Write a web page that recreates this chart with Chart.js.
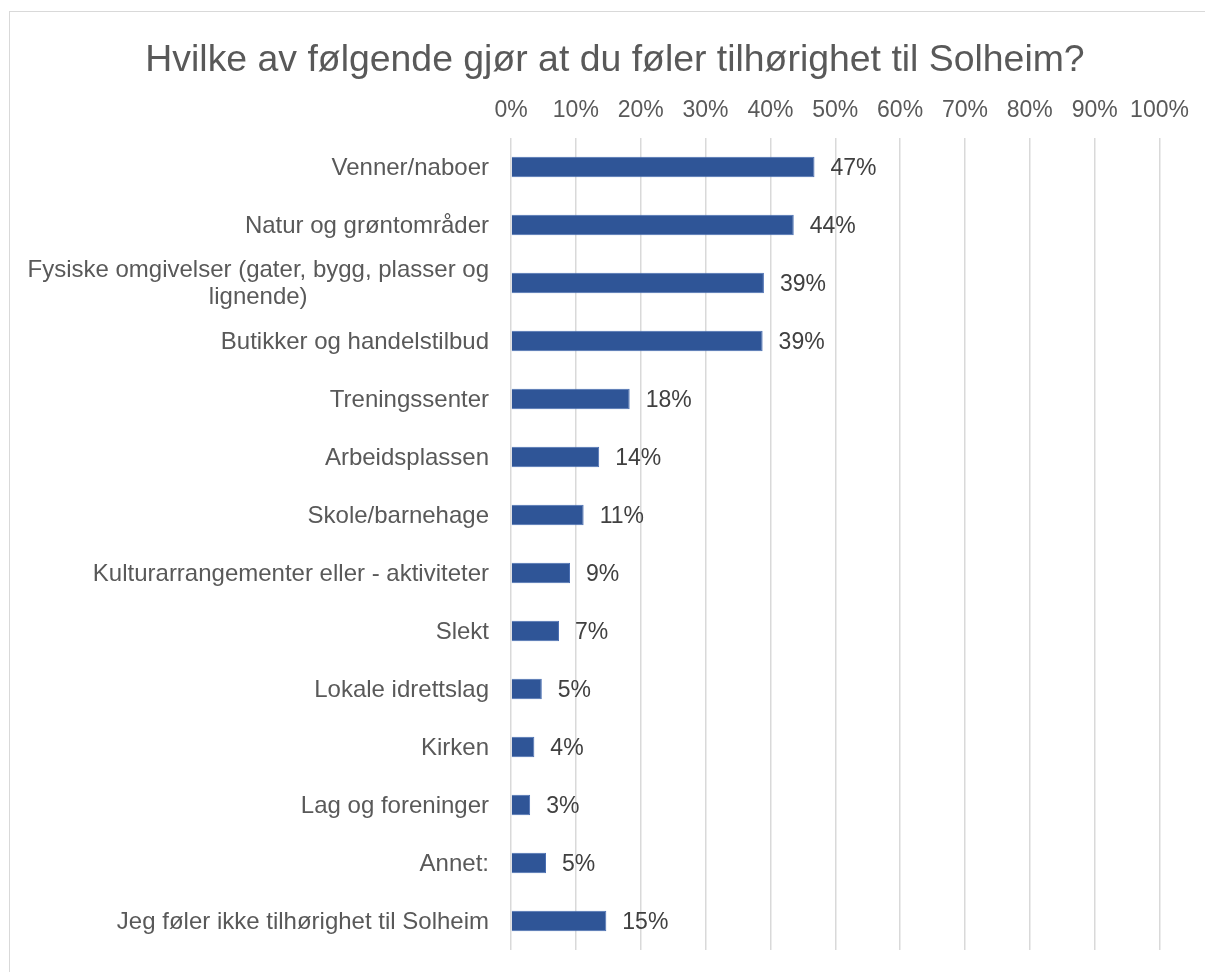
<!DOCTYPE html>
<html>
<head>
<meta charset="utf-8">
<script src="https://cdn.jsdelivr.net/npm/chart.js@4/dist/chart.umd.min.js"></script>
<style>
  html, body { margin: 0; padding: 0; background: #fff; overflow: hidden; }
  #frame { position: absolute; left: 9px; top: 11px; width: 1300px; height: 1000px; border: 1px solid #d9d9d9; }
  #chart { position: absolute; left: 0; top: 0; }
</style>
</head>
<body>
<div id="frame"></div>
<canvas id="chart" width="1205" height="972"></canvas>
<script>
'use strict';
//___________DATA__________________
var chartTitle = 'Hvilke av følgende gjør at du føler tilhørighet til Solheim?';
var categories = [
  'Venner/naboer',
  'Natur og grøntområder',
  ['Fysiske omgivelser (gater, bygg, plasser og', 'lignende)'],
  'Butikker og handelstilbud',
  'Treningssenter',
  'Arbeidsplassen',
  'Skole/barnehage',
  'Kulturarrangementer eller - aktiviteter',
  'Slekt',
  'Lokale idrettslag',
  'Kirken',
  'Lag og foreninger',
  'Annet:',
  'Jeg føler ikke tilhørighet til Solheim'
];
// percent of respondents
var shares = [46.8, 43.6, 39.0, 38.8, 18.3, 13.6, 11.2, 9.1, 7.4, 4.75, 3.6, 2.95, 5.4, 14.7];
var axisMin = 0;
var axisMax = 100;
var axisStep = 10;

var FONT = '"Liberation Sans", Arial, sans-serif';

//___________CATEGORY LABELS (multi-line centred like Excel)_________
var categoryLabels = {
  id: 'categoryLabels',
  afterDraw: function(chart) {
    var ctx = chart.ctx;
    var yScale = chart.scales.y;
    ctx.save();
    ctx.font = '24px ' + FONT;
    ctx.fillStyle = '#595959';
    ctx.textBaseline = 'middle';
    ctx.textAlign = 'center';
    for (var i = 0; i < categories.length; i++) {
      var lines = Array.isArray(categories[i]) ? categories[i] : [categories[i]];
      var w = 0;
      for (var k = 0; k < lines.length; k++) {
        w = Math.max(w, ctx.measureText(lines[k]).width);
      }
      var cx = yScale.right - 22 - w / 2;
      var cy = yScale.getPixelForValue(i) + 1;
      for (var k2 = 0; k2 < lines.length; k2++) {
        ctx.fillText(lines[k2], cx, cy + (k2 - (lines.length - 1) / 2) * 27);
      }
    }
    ctx.restore();
  }
};

//___________VALUE LABELS_________________
var valueLabels = {
  id: 'valueLabels',
  afterDatasetsDraw: function(chart) {
    var ctx = chart.ctx;
    var meta = chart.getDatasetMeta(0);
    ctx.save();
    ctx.font = '23px ' + FONT;
    ctx.fillStyle = '#404040';
    ctx.textBaseline = 'middle';
    ctx.textAlign = 'left';
    meta.data.forEach(function(bar, i) {
      ctx.fillText(Math.round(shares[i]) + '%', bar.x + 16, bar.y + 1.5);
    });
    ctx.restore();
  }
};

var ctx = document.getElementById('chart').getContext('2d');
new Chart(ctx, {
  type: 'bar',
  data: {
    labels: categories,
    datasets: [{
      data: shares,
      backgroundColor: '#2f5597',
      borderColor: '#4a6fb3',
      borderWidth: 1,
      categoryPercentage: 1,
      barPercentage: 0.357
    }]
  },
  options: {
    indexAxis: 'y',
    responsive: false,
    devicePixelRatio: 1,
    animation: false,
    layout: { padding: { left: 70.5, right: 45.5, top: 0, bottom: 22 } },
    plugins: {
      legend: { display: false },
      tooltip: { enabled: false },
      title: {
        display: true,
        text: chartTitle,
        color: '#595959',
        font: { family: FONT, size: 37.4, weight: 'normal' },
        padding: { top: 38, bottom: 0 }
      }
    },
    scales: {
      x: {
        position: 'top',
        min: axisMin,
        max: axisMax,
        afterFit: function(scale) { scale.height = 138 - 82.9; },
        grid: { color: '#d9d9d9', lineWidth: 1.5, drawTicks: false },
        border: { display: false },
        ticks: {
          stepSize: axisStep,
          padding: 14,
          color: '#595959',
          font: { family: FONT, size: 23 },
          maxRotation: 0,
          callback: function(v) { return v + '%'; }
        }
      },
      y: {
        afterFit: function(scale) { scale.width = 440.5; },
        grid: { display: false },
        border: { display: false },
        ticks: { display: false }
      }
    }
  },
  plugins: [categoryLabels, valueLabels]
});
</script>
</body>
</html>
